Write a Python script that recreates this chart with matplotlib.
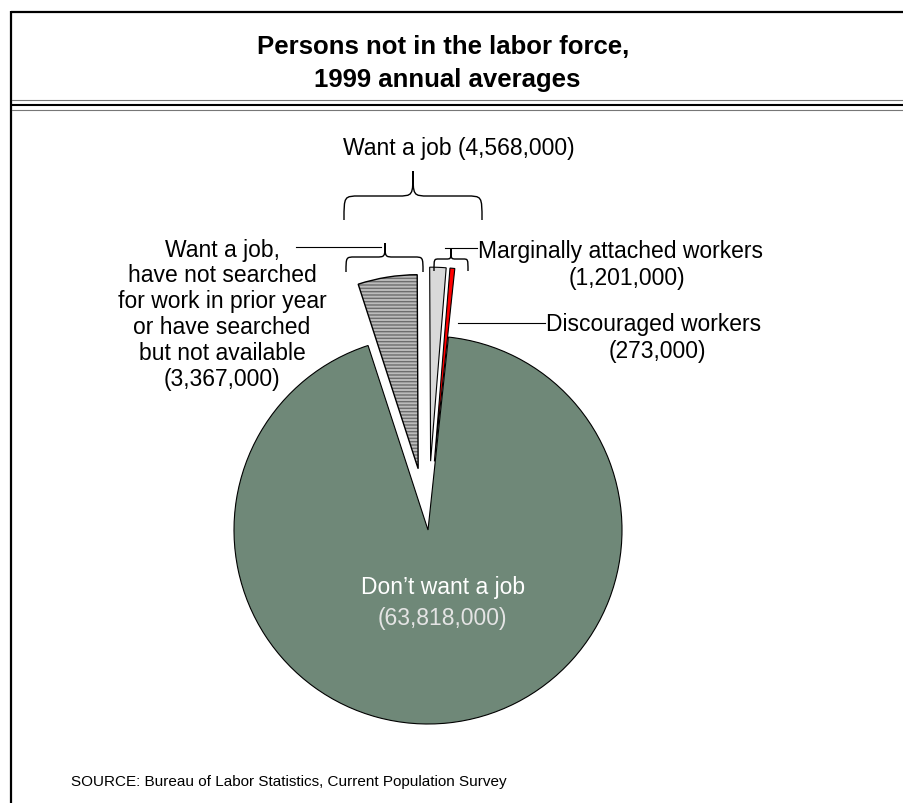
import matplotlib
matplotlib.use('Agg')
import matplotlib.pyplot as plt
from matplotlib.patches import Wedge, PathPatch
from matplotlib.path import Path

plt.rcParams['font.family'] = ['Liberation Sans', 'DejaVu Sans']
plt.rcParams['hatch.linewidth'] = 1.0

# Persons not in the labor force, 1999 annual averages
want_job = 4568000
not_searched = 3367000
marginally_attached = 1201000
discouraged = 273000
dont_want = 63818000

# pie slices, clockwise from the top-left of the gap
values = [not_searched, marginally_attached - discouraged, discouraged, dont_want]
colors = ['#bcbcbc', '#d9d9d9', '#ff0000', '#6f8878']
explode = [0.32, 0.355, 0.355, 0]   # fraction of radius

W, H = 904, 804
R = 194
fig = plt.figure(figsize=(W / 100, H / 100), dpi=100)
ax = fig.add_axes([0, 0, 1, 1])


def Y(y):
    # image row (from top) -> axes y
    return H - y


wedges, _ = ax.pie(values, colors=colors, explode=[e * R for e in explode],
                   startangle=108, counterclock=False, center=(428, Y(531)),
                   radius=R, frame=True,
                   wedgeprops=dict(edgecolor='black', linewidth=0.8))

# hatched slice: hatch drawn in grey, outline added on top
hw = wedges[0]
hw.set_hatch('-----')
hw.set_edgecolor('#6e6e6e')
hw.set_linewidth(0)
ax.add_patch(Wedge(hw.center, hw.r, hw.theta1, hw.theta2, fill=False,
                   ec='black', lw=1.0))

ax.set_xlim(0, W)
ax.set_ylim(0, H)
ax.axis('off')


def brace(x0, x1, xt, ye, ym, yt, rx):
    ye, ym, yt = Y(ye), Y(ym), Y(yt)
    verts = [(x0, ye), (x0, ym), (x0, ym), (x0 + rx, ym),
             (xt - rx, ym),
             (xt, ym), (xt, ym), (xt, yt),
             (xt, yt), (xt, ym), (xt, ym), (xt + rx, ym),
             (x1 - rx, ym),
             (x1, ym), (x1, ym), (x1, ye)]
    codes = [Path.MOVETO, Path.CURVE4, Path.CURVE4, Path.CURVE4,
             Path.LINETO,
             Path.CURVE4, Path.CURVE4, Path.CURVE4,
             Path.MOVETO, Path.CURVE4, Path.CURVE4, Path.CURVE4,
             Path.LINETO,
             Path.CURVE4, Path.CURVE4, Path.CURVE4]
    ax.add_patch(PathPatch(Path(verts, codes), fill=False, ec='black', lw=1.0))


brace(344, 482, 413, 221, 197, 172, 16)
brace(346, 423, 385, 273, 258, 244, 9)
brace(434, 468, 451, 272, 260, 250, 5)

# leader lines
ax.plot([296, 381], [Y(247.5), Y(247.5)], color='black', lw=0.8)
ax.plot([445, 477], [Y(248.5), Y(248.5)], color='black', lw=0.8)
ax.plot([458, 545], [Y(323.5), Y(323.5)], color='black', lw=0.8)

fs = 16.5
ax.text(459, Y(148), f'Want a job ({want_job:,})', fontsize=fs, ha='center', va='center')

left_lines = ['Want a job,', 'have not searched', 'for work in prior year',
              'or have searched', 'but not available', f'({not_searched:,})']
for i, s in enumerate(left_lines):
    ax.text(222, Y(250 + i * 26), s, fontsize=fs, ha='center', va='center')

ax.text(478, Y(251.5), 'Marginally attached workers', fontsize=fs, ha='left', va='center')
ax.text(627, Y(278), f'({marginally_attached:,})', fontsize=fs, ha='center', va='center')
ax.text(546, Y(325), 'Discouraged workers', fontsize=fs, ha='left', va='center')
ax.text(657, Y(351.5), f'({discouraged:,})', fontsize=fs, ha='center', va='center')

ax.text(443, Y(588), 'Don\u2019t want a job', fontsize=fs, ha='center', va='center', color='white')
ax.text(442, Y(619), f'({dont_want:,})', fontsize=fs, ha='center', va='center', color='#e4e4e4')

# title box
ax.text(443, Y(47), 'Persons not in the labor force,', fontsize=18.5,
        fontweight='bold', ha='center', va='center')
ax.text(447, Y(80), '1999 annual averages', fontsize=18.5,
        fontweight='bold', ha='center', va='center')

ax.text(71, Y(782), 'SOURCE: Bureau of Labor Statistics, Current Population Survey',
        fontsize=11, ha='left', va='center')

# frame
ax.plot([11, 11], [Y(12), 0], color='black', lw=1.6, solid_capstyle='butt')
ax.plot([11, W], [Y(13), Y(13)], color='black', lw=1.6, solid_capstyle='butt')
ax.plot([12, W], [Y(101), Y(101)], color='#777777', lw=0.8)
ax.plot([12, W], [Y(105.7), Y(105.7)], color='black', lw=1.5)
ax.plot([12, W], [Y(110.5), Y(110.5)], color='#777777', lw=0.8)

fig.savefig('out.png', dpi=100)
